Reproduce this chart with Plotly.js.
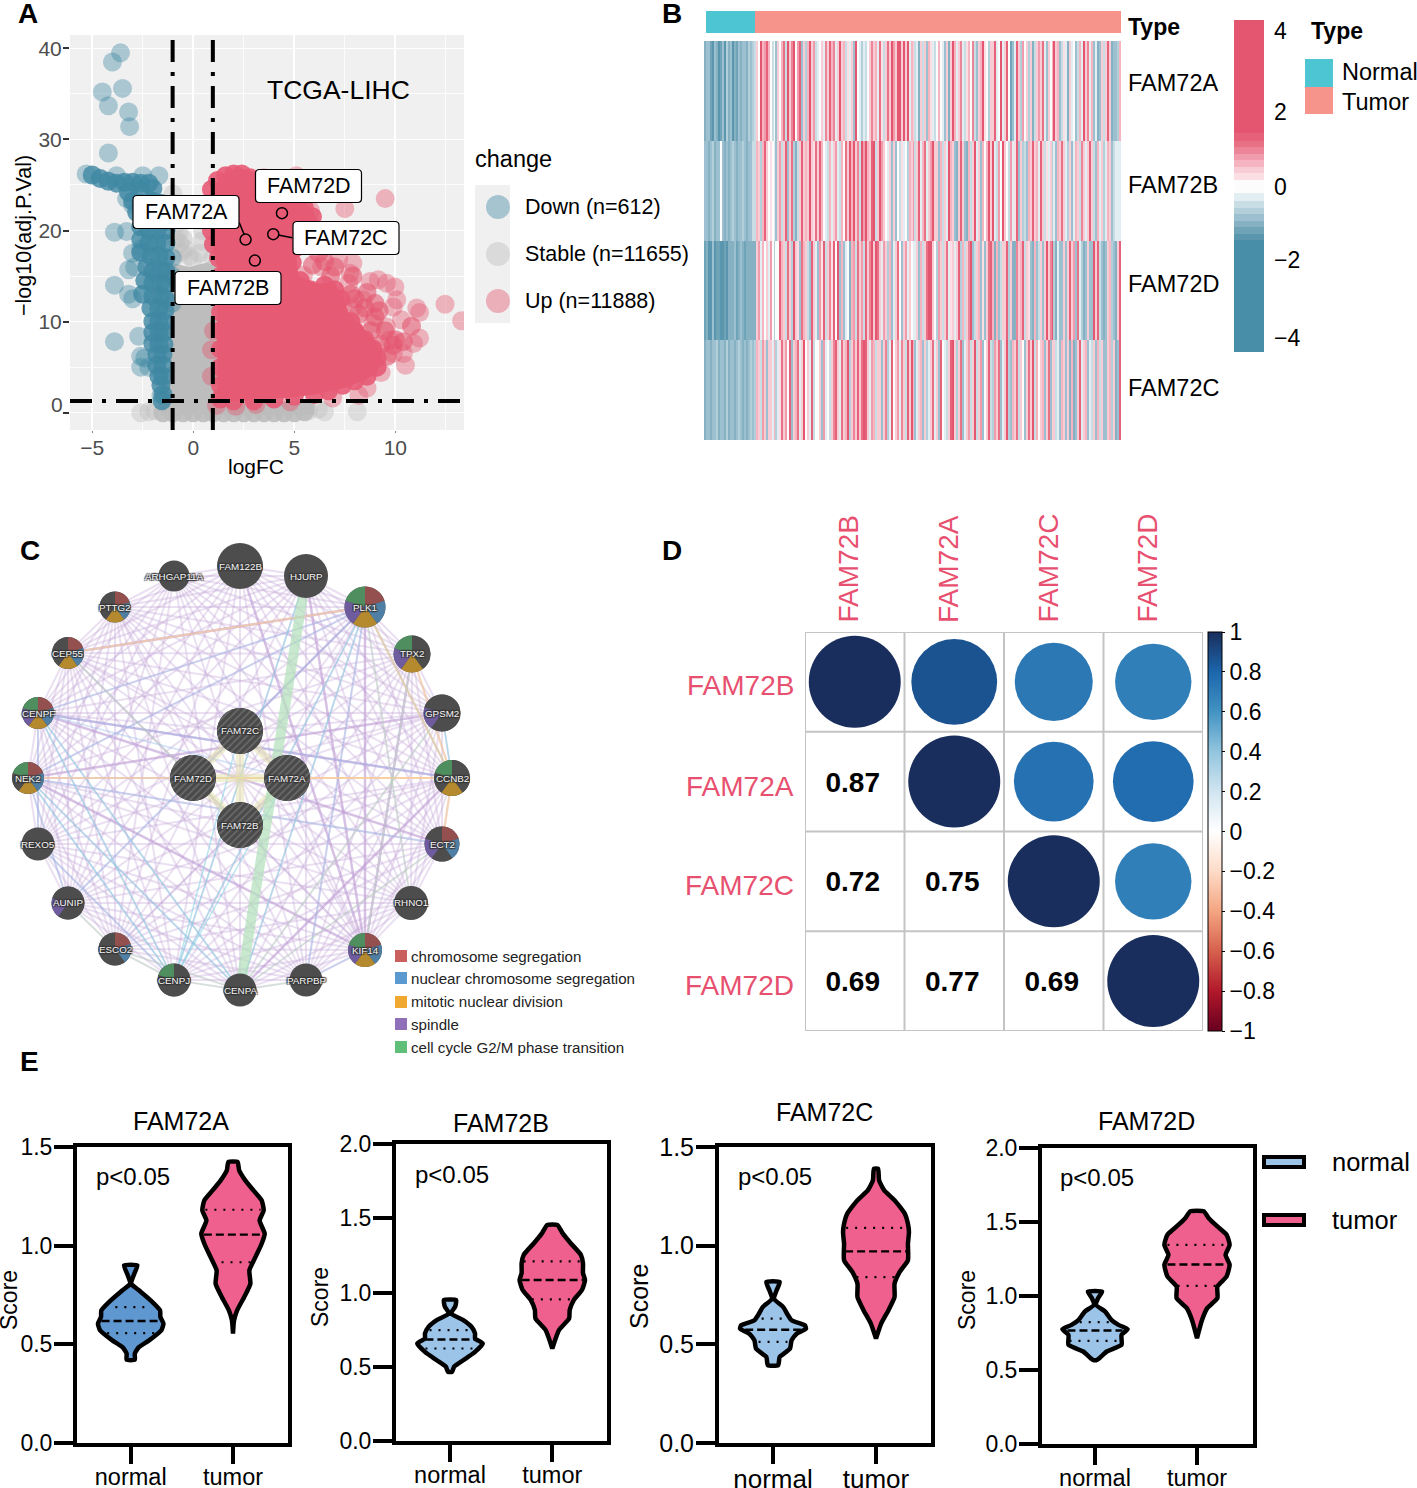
<!DOCTYPE html>
<html><head><meta charset="utf-8">
<script src="https://cdn.plot.ly/plotly-3.0.1.min.js"></script>
<style>html,body{margin:0;padding:0;background:#fff}#plot{width:1417px;height:1488px}</style>
</head><body><div id="plot"></div>
<script>
const W=1417,H=1488,FONT='Liberation Sans, Arial, sans-serif';
const fx=x=>x/W, fy=y=>1-y/H;

/* ---------- A: volcano ---------- */
const upCoreX=[1.05,1.5,2.4,3.2,4,5,5.8,6.2,6.1,5.3,5.1,5.2,6,7,7.5,7.6,8.3,9.2,9.4,8.7,7.6,6.3,5,1.2,1.2,1,0.75];
const upCoreY=[24.5,26.3,26.8,26.2,25,24.5,22.5,21,19.5,19,17,15,14.2,14.2,12.5,10.8,9.6,7.4,5.5,3.8,2.8,2.1,1.7,1.1,16,18,21];
const upDenseX=[0.9,0.9,0.85,0.9,1.0,1.25,1.35,1.35,1.35,1.35,1.35,1.35,1.35,1.35,1.2,1.6,2.0,2.4,2.8,3.2,3.6,3.9,4.3,5,5.5,5.9,6,5.4,5.0,4.9,5.3,5.8,6.5,7,7.3,7.2,7.5,8,8.5,8.9,9.1,9.1,8.6,8,7.4,6.7,6,5,4,3,2,8.2,7.8,8.4,8.7];
const upDenseY=[24.5,23,21.5,20,18.5,17,15,13,11,9,7,5,3,1.5,25.5,26,26.2,26.2,25.8,25.5,25,24,23.5,24,22.5,21.5,20,19,18,16.5,14.5,13.5,14,13.5,12.5,11,10,9,8,7,6,5,4,3.5,3,2.4,2,1.8,1.5,1.3,1.3,8,10,6.5,5];
const upMidX=[8,8.5,9,9.5,10,9,7.8,8.2,8.8,9.3,9.6,9.9,10.4,10.8,9.2,6.2,7,6.8,7.9,8.6,6.5,5.9];
const upMidY=[12.5,11.5,10.5,9,8,12,13,10.8,9,7.5,6.2,7.4,7.8,9.5,11.2,17.5,16,15,15,13.2,16.6,16.2];
const upSparseX=[9.5,7.5,5.1,3.5,6.35,7.9,7.76,5.45,8.75,9.16,9.57,9.98,10.07,9.9,12.46,13.28,11.06,11.2,11.2,10.9,10.4,9.9,10.5,8.6,10.3,9.57,8.9,9.74,8.4,7.9,7.4,5.8,4.8,0.9,1,0.9,1.15,2.1,3.1,8.2,9.3,7.2,7.7,6.9];
const upSparseY=[23.5,22.4,26,25.8,16,16.4,15.3,15.1,14.4,14.6,14.2,13.8,12.4,11.6,11.9,10.1,11.5,11,8.2,7.6,6.5,6.5,5.2,2.7,10.2,9.4,9.8,8,12.4,11.6,11.6,22.2,1.2,6.9,9,4,0.8,0.7,0.9,1.9,4.4,16.8,14.2,1.6];
const downDenseX=[-5,-4.6,-4.2,-3.8,-3.4,-3,-2.6,-2.2,-2,-2.6,-3.2,-3,-2.6,-2,-1.6,-1.3,-2.8,-2.4,-2,-1.6,-1.3,-2.6,-2.2,-1.8,-1.35,-2.6,-2.2,-1.8,-1.35,-2.6,-2.1,-1.7,-1.35,-2.3,-2,-1.6,-1.35,-2.4,-2,-1.6,-1.4,-2.5,-2,-1.6,-1.4,-2.1,-1.7,-1.4,-2,-1.7,-1.45,-2,-1.7,-1.45,-2,-1.7,-1.45,-1.8,-1.5,-1.8,-1.5,-1.7,-1.5,-1.6,-1.5,-1.55];
const downDenseY=[26.1,25.7,25.4,25.2,25.3,25.3,25.2,25.2,24.6,24.4,24.2,23.2,23,23.2,23,22.3,22,21.5,21.5,21.5,21,20.4,20,20,20,19,18.6,18.6,18.6,17.6,17.2,17.2,17,16,15.5,15.6,15.5,14.5,14.2,14.2,14,13,12.8,12.8,12.6,11.5,11.4,11.2,10,10,10,8.8,8.8,8.8,7.6,7.5,7.5,6.4,6.4,5.2,5.2,4,4,3,2,1.3];
const downSparseX=[-3.6,-4,-4.5,-3.5,-3.2,-4.2,-3.15,-4.2,-5.3,-1.7,-2.5,-3.8,-3.9,-3.3,-3.9,-3.2,-3.2,-3,-3.9,-2.7,-2.6,-2.4,-2.6,-2.2,-1.6,-2.9,-3,-3,-3.3,-2.6,-1.05,-1.05,-1.05];
const downSparseY=[39.5,38.5,35.2,35.6,33,33.7,31.4,28.5,26.2,26,26,26,19.8,19.9,14,15.7,13,12.5,7.8,8.4,6.2,6,5,5,1.9,16,17.5,22.8,23.5,18,17,15,12];
const stableCoreX=[-1.15,-0.2,0.7,1.2,1.2,6,6,-1.6,-1.6,-1.15];
const stableCoreY=[16.5,16,16.5,16,1.3,1.2,-0.2,-0.2,1.3,1.3];
const stableDenseX=[-1.5,-1,-0.5,0,0.5,1,1.5,2,2.5,3,3.5,4,4.5,5,5.5,-1.1,-1.1,-1.1,-1.1,-1.1,-1.1,-1.1,1.05,1.05,1.05,1.05,1.05];
const stableDenseY=[0,0,0,0,0,0,0,0,0,0,0,0,0,0,0.1,15,12,9,6.5,4,2.5,1.2,14,11,8,5,2.5];
const stableSparseX=[-1,-0.9,-0.8,-0.75,-0.7,-0.65,-0.6,-0.5,-0.4,-0.2,0,0.3,0.4,0.45,0.5,0.6,0.65,-0.95,1.2,1.2,1.2,-2.6,-2.2,-1.9,6.5,6.2,5.7,8.12,-0.85,0.95];
const stableSparseY=[24,23,21.9,20.8,19.8,18.6,17.6,19.1,18,17.2,16.8,17.5,18.8,20,21,22,23,17,18,16.5,15,0,0.1,0.2,0.1,0.4,0.2,0.1,19,17];
const geneX=[2.59,4.39,3.96,3.05];
const geneY=[19,21.9,19.6,16.7];
const geneLabels=[['FAM72A',186,212],['FAM72D',308.5,186],['FAM72C',346,238],['FAM72B',228,288]];
const legendA=[['Down (n=612)',207,'#3f87a3'],['Stable (n=11655)',254,'#bdbdbd'],['Up (n=11888)',301,'#e4566f']];

/* ---------- B: heatmap ---------- */
const geneRows=['FAM72A','FAM72B','FAM72D','FAM72C'];
const heatA=[
-1.1,-0.9,-0.8,-1.2,-1.3,-0.8,-1.0,-1.3,-1.2,-0.9,
-1.3,-0.7,-1.1,-0.9,-1.3,-1.0,-1.2,-0.8,-1.1,-0.9,
-0.8,-1.0,-0.7,-0.8,-0.7,-0.6,0.4,0.0,1.4,0.5,
0.7,1.3,0.5,0.0,-0.5,0.0,-0.9,0.3,0.0,0.6,
1.0,-0.5,1.4,0.3,0.9,1.5,-0.2,0.8,1.2,-0.9,
0.4,-0.7,0.5,1.4,0.3,0.7,-0.6,-0.3,0.0,0.4,
-0.3,0.9,0.3,1.3,0.5,0.9,-0.3,0.4,1.6,0.3,
0.6,-0.5,0.2,-0.3,0.3,-0.8,1.5,0.0,-0.4,-0.7,
-0.3,-0.5,-0.2,0.3,0.9,0.3,0.6,-0.3,1.1,0.2,
-0.5,0.3,1.0,0.4,1.6,0.7,0.4,1.9,2.2,0.4,
1.4,0.3,1.6,-0.4,0.6,0.4,-0.6,-0.3,-1.0,0.4,
-0.5,0.3,-0.8,0.6,0.2,-0.3,-0.5,-0.2,0.5,-0.2,
-0.4,-0.8,0.3,-1.1,0.4,1.7,0.6,-0.4,0.3,0.9,
-0.3,-0.6,0.2,0.5,-0.2,0.9,-0.5,-0.8,0.3,0.5,
1.6,0.2,-0.2,-0.7,0.4,0.3,1.3,-0.4,-0.2,1.5,
-0.3,0.4,1.2,0.1,-1.2,-0.9,-0.3,1.3,0.3,-0.7,
0.7,-0.2,0.4,-0.7,0.3,-1.0,-0.6,0.3,0.8,0.3,
1.0,-0.3,-0.9,0.3,-0.2,0.5,1.5,0.3,0.6,-0.8,
-0.5,0.2,-0.4,-1.0,0.4,-0.3,-0.2,-0.9,-0.6,0.5,
-0.3,1.4,0.3,0.9,-0.3,0.6,-0.8,-0.3,-1.1,-0.9,
0.3,-0.6,0.4,1.2,0.4,-1.0,-0.8,-0.9,-0.7,0.5];
const heatB=[
-0.9,-0.8,-1.0,-0.9,-0.7,-1.0,-0.9,-0.8,0.0,-0.9,
-1.0,-0.8,-1.0,-0.9,-0.7,-0.9,-1.0,-0.8,-0.9,-0.7,
-0.9,-1.0,-0.8,-0.9,-0.6,-0.5,0.5,0.3,-0.7,0.6,
1.3,0.4,0.0,0.2,0.0,-0.3,-0.8,0.3,0.8,-0.6,
0.3,1.2,-0.9,0.3,1.0,-0.7,-1.1,-0.5,0.3,1.2,
0.3,0.6,0.3,1.4,0.3,0.2,1.1,0.4,1.3,0.6,
0.0,-0.3,-0.6,0.5,-0.4,0.3,0.8,-0.3,-0.5,0.6,
-0.2,1.0,0.3,1.6,0.6,1.5,0.4,0.9,-0.6,1.9,
0.7,2.2,0.5,0.3,1.2,1.4,-0.5,0.3,1.5,0.8,
0.3,-0.2,-0.3,0.3,-0.8,0.4,-0.9,-0.2,-0.6,0.2,
-0.3,0.0,-0.7,0.5,0.3,0.8,-0.5,0.3,1.2,-0.4,
0.6,1.1,-0.3,0.3,0.7,1.4,0.4,0.3,-0.8,0.5,
-0.6,0.3,-0.3,1.6,0.5,0.3,-0.8,-1.0,0.3,1.3,
0.4,-0.9,-1.1,0.6,-0.5,0.3,1.5,-0.4,0.4,-0.8,
0.5,-0.2,0.6,1.4,0.3,1.7,-0.3,-0.5,0.8,-0.2,
1.6,0.3,0.0,-0.6,0.8,-0.4,0.2,1.2,-0.9,0.4,
-0.7,-0.5,-0.9,0.5,0.3,1.3,0.3,0.6,-0.3,1.2,
0.4,-0.6,0.2,-0.4,0.3,-0.7,-0.3,-0.9,0.5,0.3,
1.0,0.4,-0.4,-0.7,0.3,-0.8,-0.3,0.5,0.3,-0.6,
0.9,0.3,-0.4,0.4,1.2,0.3,-0.5,-0.8,0.6,-0.3,
0.4,-0.7,-0.3,0.5,0.3,-0.8,-0.6,-0.4,-0.3,-0.3];
const heatD=[
-1.2,-1.0,-1.3,-1.3,-0.9,-1.3,-1.2,-1.2,-1.3,-1.3,
-1.2,-1.3,-1.0,-1.1,-1.0,-0.9,-1.2,-1.0,-0.8,-1.1,
-1.2,-1.0,-1.1,-1.0,-1.1,-1.0,0.3,0.7,-0.3,0.5,
0.1,0.3,-0.4,0.8,0.0,-0.7,0.1,-0.2,1.2,0.6,
0.3,-0.6,1.0,0.3,-0.7,1.5,0.4,0.2,-0.8,1.1,
0.5,0.3,-0.5,-0.8,1.3,0.3,-0.3,-0.9,0.7,0.2,
1.2,-0.6,0.4,0.9,0.2,1.3,0.1,1.4,-0.8,0.5,
-0.9,-0.4,0.0,-1.0,0.6,0.8,-0.6,1.0,0.3,0.7,
-0.5,1.2,0.3,0.9,1.6,0.4,2.4,1.0,0.3,-0.3,
0.8,0.3,-0.7,0.5,-0.9,-0.4,0.3,1.0,-0.2,-0.8,
0.3,0.7,-0.3,0.3,-0.2,-0.4,-0.3,0.3,-0.9,0.5,
-0.6,0.4,1.1,2.2,1.6,0.3,-0.2,-0.7,0.8,0.3,
-0.5,0.3,1.0,-0.3,0.2,0.3,-0.4,0.3,1.2,-0.7,
0.6,-0.5,0.3,0.9,1.4,-0.9,-0.5,0.3,0.5,-0.8,
0.2,-0.8,0.3,1.0,1.3,0.5,-1.1,0.6,-0.9,-0.6,
0.4,0.3,1.3,-0.7,0.3,-1.1,-1.0,0.9,0.3,0.5,
1.2,-0.6,0.4,0.2,-0.8,-1.0,0.5,-0.9,-0.6,0.3,
-0.9,0.3,1.4,0.3,0.9,1.6,-0.7,-1.0,-0.3,-0.8,
-0.9,0.4,-0.9,0.3,1.3,0.3,0.7,-0.8,1.1,-0.3,
-0.7,-1.0,-0.8,0.3,-0.9,-0.8,1.4,0.4,1.2,-0.6,
-0.9,-1.0,-0.8,0.3,0.6,-0.7,-0.9,-1.0,0.3,1.3];
const heatC=[
-1.0,-0.9,-0.8,-1.0,-0.9,-0.8,-0.7,-1.0,-0.9,-0.9,
-1.0,-0.7,-1.0,-0.9,-0.8,-1.0,-0.9,-0.7,-0.9,-1.0,
-0.8,-1.0,-0.9,-0.7,-0.8,-0.7,0.5,0.3,-0.5,0.8,
0.3,-0.9,0.4,0.3,-0.4,0.6,-0.7,-0.4,0.2,1.1,
0.3,0.8,0.0,1.3,-0.9,0.3,0.5,1.0,-0.4,0.4,
1.5,0.0,0.3,-0.3,1.3,-0.5,0.0,0.0,0.3,-0.8,
0.7,-0.3,0.0,-0.6,0.3,0.9,1.3,0.4,-0.4,1.1,
0.3,0.6,1.5,-0.7,0.3,0.9,0.4,1.2,0.3,1.0,
2.3,1.3,0.3,-0.3,0.8,0.5,-0.6,0.3,0.4,-0.8,
0.3,0.9,-0.7,-0.4,1.3,0.0,0.3,0.7,-0.3,0.9,
0.4,-0.6,1.2,0.3,1.6,0.5,-0.8,-0.4,0.3,0.6,
-0.9,0.4,-0.7,-0.4,0.3,1.1,-0.4,0.3,-0.8,1.3,
0.0,-0.3,-0.6,0.3,1.3,1.5,0.4,-0.7,0.3,1.0,
-0.9,-0.4,0.3,0.8,-0.5,0.4,1.4,-0.6,0.3,0.7,
-0.9,0.0,0.3,1.2,-0.5,-0.7,0.8,0.3,1.1,-0.8,
-0.3,0.3,1.4,-0.7,-0.9,0.5,0.3,1.1,-0.6,0.4,
0.0,-0.8,0.3,1.0,0.3,1.4,-0.6,0.5,0.0,0.3,
0.6,-0.8,0.4,1.0,-0.9,0.3,0.4,-0.6,-0.3,-0.9,
0.5,0.3,-0.8,0.3,-1.0,0.6,-1.1,-0.9,0.3,1.3,
-0.4,0.3,0.5,-0.8,-0.4,-0.6,0.3,-0.9,0.5,-0.5,
0.3,-0.8,-0.9,0.3,0.6,-0.7,0.3,-1.0,-0.9,1.2];
const heatZ=[heatA,heatB,heatD,heatC];
const heatBreaks=[-4.36,-1.45,-1.28,-1.11,-0.94,-0.77,-0.6,-0.43,-0.22,0.12,0.3,0.47,0.64,0.81,0.98,1.15,1.34,4.29];
const heatColors=['#498ea8','#5a96ae','#6fa3b8','#85b1c3','#9cc0cf','#b2cfda','#c9dde5','#e3eef2','#fdfcfd','#fbdfe4','#f8ccd4','#f5b4c0','#f19cac','#ec8598','#e97186','#e6627a','#e4566f'];
const heatTickText=['−4','−2','0','2','4'];
const heatTickPos=[-4,-1.97,-0.07,1.89,4];
const heatLabelRows=[['FAM72A',83],['FAM72B',185],['FAM72D',284],['FAM72C',388]];

/* ---------- C: network ---------- */
const nodeNames=['ARHGAP11A','FAM122B','HJURP','PLK1','TPX2','GPSM2','CCNB2','ECT2','RHNO1','KIF14','PARPBP','CENPA','CENPJ','ESCO2','AUNIP','REXO5','NEK2','CENPF','CEP55','PTTG2','FAM72C','FAM72D','FAM72A','FAM72B'];
const nodeX=[174,240,306,365,412,442,452,442,411,365,306,240,174,115,68,38,28,38,68,115,240,193,287,240];
const nodeY=[576,566,576,607,654,713,778,844,903,950,980,990,980,949,903,844,778,713,653,607,731,778,778,825];
const nodeD=[31,46,44,41,37,37,36,35,34,34,33,33,33,33,33,33,32,32,32,31,46,46,46,46];
const termNames=['chromosome segregation','nuclear chromosome segregation','mitotic nuclear division','spindle','cell cycle G2/M phase transition'];
const termLegendColors=['#c9605d','#5a9ad0','#f0a830','#8f70b8','#5fbf78'];
const termPieColors=['#94504f','#4f7fa4','#b58a2f','#6f5c9e','#4f8f5f'];
/* membership flags in the order of termNames */
const nodeTerms={3:[1,1,1,1,1],4:[0,0,1,1,1],5:[0,0,0,1,0],6:[0,0,1,0,1],7:[1,1,0,1,0],9:[1,1,1,1,1],12:[0,0,0,0,1],13:[1,1,0,0,0],14:[0,0,0,1,0],16:[1,1,1,0,1],17:[1,1,1,1,1],18:[1,1,1,0,0],19:[1,1,1,0,0]};
const purpleAdj={0:[1,2,3,4,6,9,11,13,16,17,19,7,5,8,10,14,15,18],1:[2,3,4,5,6,7,9,16,17,18,19,11,13,8,10,12,14,15],2:[3,4,5,6,7,9,16,17,18,19,13,15,8,10,12,14],3:[4,5,6,7,8,9,10,11,12,13,15,16,17,18,19,14],4:[5,6,7,9,11,13,14,16,17,18,19,15,8,10,12],5:[6,7,9,13,16,17,18,19,14,8,10,11,12,15],6:[7,8,9,11,12,13,15,16,17,18,19,10,14],7:[8,9,10,13,16,17,18,19,15,11,12,14],8:[9,13,16,17,18,10,11,12,14,15,19],9:[10,11,12,13,14,15,16,17,18,19],10:[11,16,17,18,12,13,14,15,19],11:[12,13,16,17,18,19,14,15],12:[13,16,17,18,14,15,19],13:[14,15,16,17,18,19],14:[15,16,17,18,19],15:[16,17,18,19],16:[17,18,19],17:[18,19],18:[19],20:[17,3,9,5],21:[5,18,3,9],22:[18,9,16,13],23:[3,16,6,19]};
const purpleThick=[[16,9],[17,6],[3,18],[9,4],[3,9],[16,5],[17,7],[11,6],[9,1],[9,2]];
const blueEdges=[[17,3],[16,3],[17,6],[16,7],[3,10],[9,10],[17,22],[14,3],[12,15],[16,14],[17,15]];
const cyanEdges=[[3,11],[22,12],[16,11],[17,11],[16,12],[17,12],[12,2],[5,6],[3,6],[20,12],[3,12]];
const orangeEdges=[[18,3],[3,6],[16,6],[21,22],[6,7],[22,6],[4,6]];
const greenEdges=[[18,23],[14,13],[13,11],[11,10],[3,8],[4,9],[5,11],[7,11],[13,12],[12,11]];
const yellowEdges=[[20,21],[20,22],[20,23],[21,22],[21,23],[22,23]];
const greenThick=[[2,11]];

/* ---------- D: correlation ---------- */
const corrNames=['FAM72B','FAM72A','FAM72C','FAM72D'];
const corrValues=[[1,0.87,0.72,0.69],[0.87,1,0.75,0.77],[0.72,0.75,1,0.69],[0.69,0.77,0.69,1]];
const corrTicks=[1,0.8,0.6,0.4,0.2,0,-0.2,-0.4,-0.6,-0.8,-1];
const corrScale=['#67001f','#b2182b','#d6604d','#f4a582','#fddbc7','#ffffff','#d1e5f0','#92c5de','#4393c3','#1c66ac','#192e5c'];

/* ---------- E: violins (score, half width in category units) ---------- */
const v1nY=[0.9,0.858,0.807,0.774,0.723,0.672,0.639,0.605,0.571,0.52,0.486,0.453,0.422];
const v1nW=[0.065,0.035,0.005,0.08,0.195,0.287,0.29,0.32,0.3,0.18,0.08,0.04,0.04];
const v1tY=[1.424,1.382,1.331,1.28,1.23,1.179,1.128,1.061,1.01,0.943,0.875,0.807,0.74,0.672,0.62,0.554];
const v1tW=[0.045,0.06,0.12,0.2,0.28,0.3,0.26,0.31,0.28,0.22,0.16,0.17,0.11,0.04,0.01,0];
const v2nY=[0.949,0.904,0.859,0.814,0.769,0.724,0.69,0.657,0.6,0.544,0.5,0.466];
const v2nW=[0.06,0.05,0.01,0.13,0.21,0.245,0.245,0.32,0.245,0.13,0.04,0.02];
const v2tY=[1.455,1.4,1.332,1.253,1.197,1.13,1.084,1.017,0.949,0.882,0.826,0.747,0.623];
const v2tW=[0.05,0.1,0.18,0.28,0.3,0.3,0.32,0.29,0.21,0.17,0.165,0.065,0];
const v3nY=[0.816,0.774,0.731,0.689,0.655,0.622,0.596,0.579,0.554,0.52,0.478,0.436,0.394];
const v3nW=[0.065,0.035,0.01,0.1,0.137,0.18,0.31,0.32,0.23,0.18,0.165,0.065,0.05];
const v3tY=[1.39,1.331,1.28,1.23,1.162,1.111,1.069,1.01,0.926,0.867,0.807,0.74,0.672,0.605,0.529];
const v3tW=[0.02,0.03,0.08,0.18,0.28,0.31,0.32,0.31,0.31,0.23,0.18,0.18,0.12,0.05,0];
const v4nY=[1.03,0.985,0.94,0.895,0.839,0.805,0.776,0.737,0.67,0.625,0.568];
const v4nW=[0.07,0.03,0.01,0.1,0.16,0.23,0.32,0.26,0.26,0.115,0.02];
const v4tY=[1.572,1.526,1.47,1.414,1.346,1.278,1.211,1.132,1.064,0.985,0.918,0.839,0.715];
const v4tW=[0.065,0.115,0.2,0.29,0.32,0.28,0.32,0.29,0.2,0.2,0.1,0.05,0];
/* [q3, median, q1] and half widths of those lines */
const q1n=[0.689,0.618,0.557], q1nW=[0.15,0.285,0.23], q1t=[1.182,1.056,0.916], q1tW=[0.27,0.285,0.2];
const q2n=[0.747,0.684,0.623], q2nW=[0.2,0.24,0.24], q2t=[1.21,1.084,0.954], q2tW=[0.28,0.3,0.2];
const q3n=[0.63,0.574,0.512], q3nW=[0.11,0.27,0.14], q3t=[1.09,0.971,0.841], q3tW=[0.29,0.3,0.19];
const q4n=[0.823,0.767,0.697], q4nW=[0.15,0.27,0.25], q4t=[1.346,1.213,1.069], q4tW=[0.29,0.29,0.19];
const groupNames=['normal','tumor'];

const panels=[
 {name:'FAM72A',box:[77,288,1147,1443],cx:[130.7,233],top:1.5,ticks:[0,0.5,1,1.5],vn:[v1nY,v1nW],vt:[v1tY,v1tW],qn:[q1n,q1nW],qt:[q1t,q1tW],blue:'#5f97d1',title:[181,1121],p:[96,1176],score:[9,1300],fs:23,ax:'5'},
 {name:'FAM72B',box:[396,607,1144,1441],cx:[450,552.3],top:2,ticks:[0,0.5,1,1.5,2],vn:[v2nY,v2nW],vt:[v2tY,v2tW],qn:[q2n,q2nW],qt:[q2t,q2tW],blue:'#9cc3e8',title:[501,1123],p:[415,1174],score:[320,1297],fs:23,ax:'6'},
 {name:'FAM72C',box:[719,931,1147,1443],cx:[773,876],top:1.5,ticks:[0,0.5,1,1.5],vn:[v3nY,v3nW],vt:[v3tY,v3tW],qn:[q3n,q3nW],qt:[q3t,q3tW],blue:'#9cc3e8',title:[824,1112],p:[738,1176],score:[639,1297],fs:25,ax:'7'},
 {name:'FAM72D',box:[1042,1253,1148,1444],cx:[1095,1197],top:2,ticks:[0,0.5,1,1.5,2],vn:[v4nY,v4nW],vt:[v4tY,v4tW],qn:[q4n,q4nW],qt:[q4t,q4tW],blue:'#9cc3e8',title:[1146,1121],p:[1060,1177],score:[967,1300],fs:23,ax:'8'}
];

/* ---------- build ---------- */
const traces=[], annotations=[], shapes=[], layout={};
function txt(x,y,text,size,o={}){
  annotations.push(Object.assign({xref:'paper',yref:'paper',x:fx(x),y:fy(y),text,showarrow:false,xanchor:'center',yanchor:'middle',
    font:Object.assign({family:FONT,size,color:o.color||'#000'},o.font||{}),borderpad:0,borderwidth:0},o.extra||{}));
}
const left={xanchor:'left'};
const rect=(x0,x1,y0,y1,fill,extra={})=>shapes.push(Object.assign({type:'rect',xref:'paper',yref:'paper',x0:fx(x0),x1:fx(x1),y0:fy(y0),y1:fy(y1),fillcolor:fill,line:{width:0},layer:'below'},extra));
function roundBox(cx,cy,w,h,r){
  const a=cx-w/2,b=cx+w/2,c=cy-h/2,d=cy+h/2,P=(x,y)=>fx(x)+','+fy(y);
  shapes.push({type:'path',xref:'paper',yref:'paper',layer:'above',fillcolor:'#fff',line:{color:'#000',width:1.2},
    path:'M'+P(a+r,c)+' L'+P(b-r,c)+' Q'+P(b,c)+' '+P(b,c+r)+' L'+P(b,d-r)+' Q'+P(b,d)+' '+P(b-r,d)+' L'+P(a+r,d)+' Q'+P(a,d)+' '+P(a,d-r)+' L'+P(a,c+r)+' Q'+P(a,c)+' '+P(a+r,c)+' Z'});
}

/* panel letters */
[['A',28,14],['B',672,14],['C',30,550],['D',672,550],['E',29,1061]].forEach(p=>txt(p[1],p[2],'<b>'+p[0]+'</b>',28));

/* page overlay axis in pixels, used for the network and legend keys */
layout.xaxis3={domain:[0,1],range:[0,W],visible:false,fixedrange:true};
layout.yaxis3={domain:[0,1],range:[H,0],visible:false,fixedrange:true};

/* A */
const Rx=[-6.1,13.4],Ry=[-1.9,41.46],MS=19;
layout.xaxis={domain:[fx(70),fx(464)],range:Rx,tickvals:[-5,0,5,10],ticktext:['−5','0','5','10'],ticks:'outside',ticklen:2,tickwidth:1,tickcolor:'#888',ticklabelstandoff:-3,tickfont:{family:FONT,size:21,color:'#4d4d4d'},showgrid:true,gridcolor:'#fff',gridwidth:1.6,zeroline:false,showline:false,minor:{tickvals:[-2.5,2.5,7.5,12.5],showgrid:true,gridcolor:'#fff',gridwidth:0.8,ticks:''},anchor:'y'};
layout.yaxis={domain:[fy(430),fy(35)],range:Ry,tickvals:[0,10,20,30,40],ticktext:[' ','10','20','30','40'],ticks:'outside',ticklen:6,tickwidth:2,tickcolor:'#333',ticklabelstandoff:-3,tickfont:{family:FONT,size:21,color:'#4d4d4d'},showgrid:true,gridcolor:'#fff',gridwidth:1.6,zeroline:false,showline:false,minor:{tickvals:[5,15,25,35],showgrid:true,gridcolor:'#fff',gridwidth:0.8,ticks:''},anchor:'x'};
rect(70,464,35,430,'#f0f0f0');
txt(63,404,'0',21,{color:'#4d4d4d',extra:{xanchor:'right'}});
const pts=(x,y,color,op)=>traces.push({type:'scatter',mode:'markers',x,y,xaxis:'x',yaxis:'y',cliponaxis:true,marker:{size:MS,color,opacity:op,line:{width:0}},hoverinfo:'skip'});
const poly=(x,y,color)=>traces.push({type:'scatter',mode:'lines',x,y,xaxis:'x',yaxis:'y',fill:'toself',fillcolor:color,line:{width:0,color},hoverinfo:'skip'});
pts(stableSparseX,stableSparseY,'#bdbdbd',0.4);
poly(stableCoreX,stableCoreY,'#bdbdbd');
pts(stableDenseX,stableDenseY,'#bdbdbd',0.9);
pts(downSparseX,downSparseY,'#3f87a3',0.4);
pts(downDenseX,downDenseY,'#3f87a3',0.8);
pts(upSparseX,upSparseY,'#e4566f',0.4);
pts(upMidX,upMidY,'#e4566f',0.6);
poly(upCoreX,upCoreY,'#e75a74');
pts(upDenseX,upDenseY,'#e75a74',0.9);
const dd='22px,10px,4px,10px';
[[Rx,[1.28,1.28]],[[-1.02,-1.02],Ry],[[0.97,0.97],Ry]].forEach(l=>traces.push({type:'scatter',mode:'lines',x:l[0],y:l[1],xaxis:'x',yaxis:'y',line:{color:'#000',width:4,dash:dd},hoverinfo:'skip'}));
traces.push({type:'scatter',mode:'lines',x:[2.28,2.53,null,4.2,4.9],y:[20.86,19.5,null,19.5,19.2],xaxis:'x',yaxis:'y',line:{color:'#000',width:1.5},hoverinfo:'skip'});
traces.push({type:'scatter',mode:'markers',x:geneX,y:geneY,xaxis:'x',yaxis:'y',marker:{symbol:'circle-open',size:11,color:'#000',line:{width:1.5,color:'#000'}},hoverinfo:'skip'});
geneLabels.forEach(g=>{roundBox(g[1],g[2],106,33,4);txt(g[1],g[2],g[0],21.5);});
txt(338,90,'TCGA-LIHC',26.5);
txt(256,466,'logFC',21);
txt(24,236,'−log10(adj.P.Val)',21.5,{extra:{textangle:-90}});
txt(475,159,'change',23.5,{extra:left});
rect(475,510,185,323,'#f0f0f0');
legendA.forEach(l=>{
  traces.push({type:'scatter',mode:'markers',x:[498],y:[l[1]],xaxis:'x3',yaxis:'y3',marker:{size:24,color:l[2],opacity:0.42},hoverinfo:'skip'});
  txt(525,l[1],l[0],21.5,{extra:left});
});

/* B */
const tHeat=v=>(v-heatBreaks[0])/(heatBreaks[heatBreaks.length-1]-heatBreaks[0]);
const heatScale=[];
heatColors.forEach((c,i)=>{heatScale.push([tHeat(heatBreaks[i]),c]);heatScale.push([tHeat(heatBreaks[i+1]),c]);});
layout.xaxis2={domain:[fx(704),fx(1121)],range:[-0.5,heatA.length-0.5],visible:false,anchor:'y2'};
layout.yaxis2={domain:[fy(440),fy(41)],range:[3.5,-0.5],visible:false,anchor:'x2'};
traces.push({type:'heatmap',z:heatZ,y:geneRows.map((_,i)=>i),xaxis:'x2',yaxis:'y2',colorscale:heatScale,zmin:heatBreaks[0],zmax:heatBreaks[heatBreaks.length-1],hoverinfo:'skip',
  colorbar:{x:fx(1234),xanchor:'left',xpad:0,y:fy(20),yanchor:'top',ypad:0,thickness:30,thicknessmode:'pixels',len:332,lenmode:'pixels',outlinewidth:0,tickvals:heatTickPos,ticktext:heatTickText,ticks:'outside',ticklen:6,tickcolor:'rgba(0,0,0,0)',tickfont:{family:FONT,size:23,color:'#000'}}});
rect(706,755,11,33,'#4dc5d2');
rect(755,1121,11,33,'#f6938a');
txt(1128,27,'<b>Type</b>',23,{extra:left});
txt(1311,31,'<b>Type</b>',23,{extra:left});
heatLabelRows.forEach(r=>txt(1128,r[1],r[0],23.5,{extra:left}));
rect(1305,1333,59,87,'#4dc5d2');
rect(1305,1333,87,114,'#f6938a');
txt(1342,72,'Normal',23.5,{extra:left});
txt(1342,102,'Tumor',23.5,{extra:left});

/* C */
function edgeTrace(pairs,color,width){
  const x=[],y=[];
  pairs.forEach(p=>{x.push(nodeX[p[0]],nodeX[p[1]],null);y.push(nodeY[p[0]],nodeY[p[1]],null);});
  traces.push({type:'scatter',mode:'lines',x,y,xaxis:'x3',yaxis:'y3',line:{color,width},hoverinfo:'skip'});
}
const purplePairs=[];
Object.keys(purpleAdj).forEach(k=>purpleAdj[k].forEach(t=>purplePairs.push([+k,t])));
edgeTrace(purplePairs,'rgba(198,168,216,0.36)',2);
edgeTrace(purpleThick,'rgba(190,155,212,0.45)',2.6);
edgeTrace(blueEdges,'rgba(150,185,232,0.4)',1.8);
edgeTrace(cyanEdges,'rgba(130,210,228,0.55)',1.5);
edgeTrace(orangeEdges,'rgba(250,205,150,0.6)',2.2);
edgeTrace(greenEdges,'rgba(180,225,180,0.5)',1.2);
edgeTrace(yellowEdges,'rgba(228,226,170,0.5)',8);
edgeTrace(greenThick,'rgba(178,224,186,0.7)',10);
traces.push({type:'scatter',mode:'markers',x:nodeX,y:nodeY,xaxis:'x3',yaxis:'y3',marker:{size:nodeD,opacity:1,color:'#4d4d4d',line:{width:0}},hoverinfo:'skip'});
const dom=i=>({x:[fx(nodeX[i]-nodeD[i]/2),fx(nodeX[i]+nodeD[i]/2)],y:[fy(nodeY[i]+nodeD[i]/2),fy(nodeY[i]-nodeD[i]/2)]});
Object.keys(nodeTerms).forEach(k=>{
  const i=+k;
  traces.push({type:'pie',values:[1,1,1,1,1],sort:false,direction:'clockwise',rotation:0,textinfo:'none',showlegend:false,hoverinfo:'skip',domain:dom(i),
    marker:{colors:nodeTerms[i].map((f,j)=>f?termPieColors[j]:'#4d4d4d'),line:{width:0}}});
});
[20,21,22,23].forEach(i=>traces.push({type:'pie',values:[1],sort:false,textinfo:'none',showlegend:false,hoverinfo:'skip',domain:dom(i),
  marker:{colors:['#4d4d4d'],line:{width:0},pattern:{shape:'/',fgcolor:'#6c6c6c',bgcolor:'#4a4a4a',size:5,solidity:0.3}}}));
nodeNames.forEach((n,i)=>txt(nodeX[i],nodeY[i],n,9.8,{color:'#f5f5f5',font:{shadow:'1px 1px 1px #333, -1px -1px 1px #333, 1px -1px 1px #333, -1px 1px 1px #333'}}));
[956,978,1002,1024,1047].forEach((y,i)=>{
  rect(395,407,y-6,y+6,termLegendColors[i]);
  txt(411,y,termNames[i],15.1,{color:'#222',extra:left});
});

/* D */
const D={x0:805,x1:1203,y0:632,y1:1031};
layout.xaxis4={domain:[fx(D.x0),fx(D.x1)],range:[-0.5,3.5],visible:false,anchor:'y4'};
layout.yaxis4={domain:[fy(D.y1),fy(D.y0)],range:[3.5,-0.5],visible:false,anchor:'x4'};
[-0.5,0.5,1.5,2.5,3.5].forEach(v=>{
  shapes.push({type:'line',xref:'x4',yref:'y4',x0:v,x1:v,y0:-0.5,y1:3.5,line:{color:'#c4c4c4',width:2},layer:'below'});
  shapes.push({type:'line',xref:'x4',yref:'y4',y0:v,y1:v,x0:-0.5,x1:3.5,line:{color:'#c4c4c4',width:2},layer:'below'});
});
const cx=[],cy=[],cc=[],tx=[],ty=[],tt=[];
corrValues.forEach((row,r)=>row.forEach((v,c)=>{
  if(c>=r){cx.push(c);cy.push(r);cc.push(v);}
  else{tx.push(c-0.02);ty.push(r+0.03);tt.push('<b>'+v.toFixed(2)+'</b>');}
}));
traces.push({type:'scatter',mode:'markers',x:cx,y:cy,xaxis:'x4',yaxis:'y4',hoverinfo:'skip',
  marker:{size:cc.map(v=>92*Math.sqrt(Math.abs(v))),sizemode:'diameter',opacity:1,color:cc,cmin:-1,cmax:1,line:{width:0},
   colorscale:corrScale.map((c,i)=>[i/(corrScale.length-1),c]),showscale:true,
   colorbar:{x:fx(1208),xanchor:'left',xpad:0,y:fy(632),yanchor:'top',ypad:0,thickness:14,thicknessmode:'pixels',len:399,lenmode:'pixels',outlinewidth:1,outlinecolor:'#000',tickvals:corrTicks,ticktext:corrTicks.map(v=>v<0?'−'+Math.abs(v):''+v),ticks:'outside',ticklen:3,tickcolor:'#000',tickwidth:1,tickfont:{family:FONT,size:23,color:'#000'}}}});
traces.push({type:'scatter',mode:'text',x:tx,y:ty,text:tt,xaxis:'x4',yaxis:'y4',textfont:{family:FONT,size:28,color:'#000'},hoverinfo:'skip'});
const colPx=[848,948,1048,1147], rowPx=[686,786,885,985];
corrNames.forEach((n,i)=>{
  txt(colPx[i],623,n,28,{color:'#e8506f',extra:{textangle:-90,yanchor:'bottom'}});
  txt(794,rowPx[i],n,28,{color:'#e8506f',extra:{xanchor:'right'}});
});

/* E */
panels.forEach(p=>{
  const [x0,x1,y0,y1]=p.box, u=p.cx[1]-p.cx[0];
  const xa='xaxis'+p.ax, ya='yaxis'+p.ax, xr='x'+p.ax, yr='y'+p.ax;
  layout[xa]={domain:[fx(x0),fx(x1)],range:[(x0-p.cx[0])/u,(x1-p.cx[0])/u],tickvals:[0,1],ticktext:groupNames,ticks:'outside',ticklen:17,tickwidth:4,tickcolor:'#000',ticklabelstandoff:-7,showline:true,linewidth:4,linecolor:'#000',mirror:true,showgrid:false,zeroline:false,tickfont:{family:FONT,size:p.fs+(p.fs==25?1:0.5),color:'#000'},anchor:yr};
  layout[ya]={domain:[fy(y1),fy(y0)],range:[0,p.top],tickvals:p.ticks,ticktext:p.ticks.map(v=>v.toFixed(1)),ticks:'outside',ticklen:19,tickwidth:4,tickcolor:'#000',ticklabelstandoff:-3,showline:true,linewidth:4,linecolor:'#000',mirror:true,showgrid:false,zeroline:false,tickfont:{family:FONT,size:p.fs,color:'#000'},anchor:xr};
  [[p.vn,p.qn,0,p.blue],[p.vt,p.qt,1,'#f0608f']].forEach(g=>{
    const [ys,ws]=g[0], c=g[2];
    const X=ys.map((_,i)=>c+ws[i]).concat(ys.map((_,i)=>c-ws[i]).reverse()); X.push(X[0]);
    const Y=ys.concat(ys.slice().reverse()); Y.push(Y[0]);
    traces.push({type:'scatter',mode:'lines',x:X,y:Y,xaxis:xr,yaxis:yr,fill:'toself',fillcolor:g[3],line:{color:'#000',width:4.5,shape:'spline',smoothing:0.5},hoverinfo:'skip'});
    g[1][0].forEach((q,i)=>traces.push({type:'scatter',mode:'lines',x:[c-g[1][1][i],c+g[1][1][i]],y:[q,q],xaxis:xr,yaxis:yr,line:{color:'#000',width:i==1?2.4:2.2,dash:i==1?'8px,4px':'2px,7px'},hoverinfo:'skip'}));
  });
  txt(p.title[0],p.title[1],p.name,25);
  txt(p.p[0],p.p[1],'p&lt;0.05',24,{extra:left});
  txt(p.score[0],p.score[1],'Score',p.fs,{extra:{textangle:-90}});
});
[[1162,'#9cc3e8','normal'],[1220,'#f0608f','tumor']].forEach(k=>{
  rect(1264,1304,k[0]-5,k[0]+5,k[1],{line:{color:'#000',width:4}});
  txt(1332,k[0],k[2],25.5,{extra:left});
});

Object.assign(layout,{width:W,height:H,margin:{l:0,r:0,t:0,b:0,pad:0},paper_bgcolor:'#fff',plot_bgcolor:'rgba(0,0,0,0)',showlegend:false,annotations,shapes,font:{family:FONT}});
Plotly.newPlot('plot',traces,layout,{displayModeBar:false,staticPlot:true});
</script></body></html>
